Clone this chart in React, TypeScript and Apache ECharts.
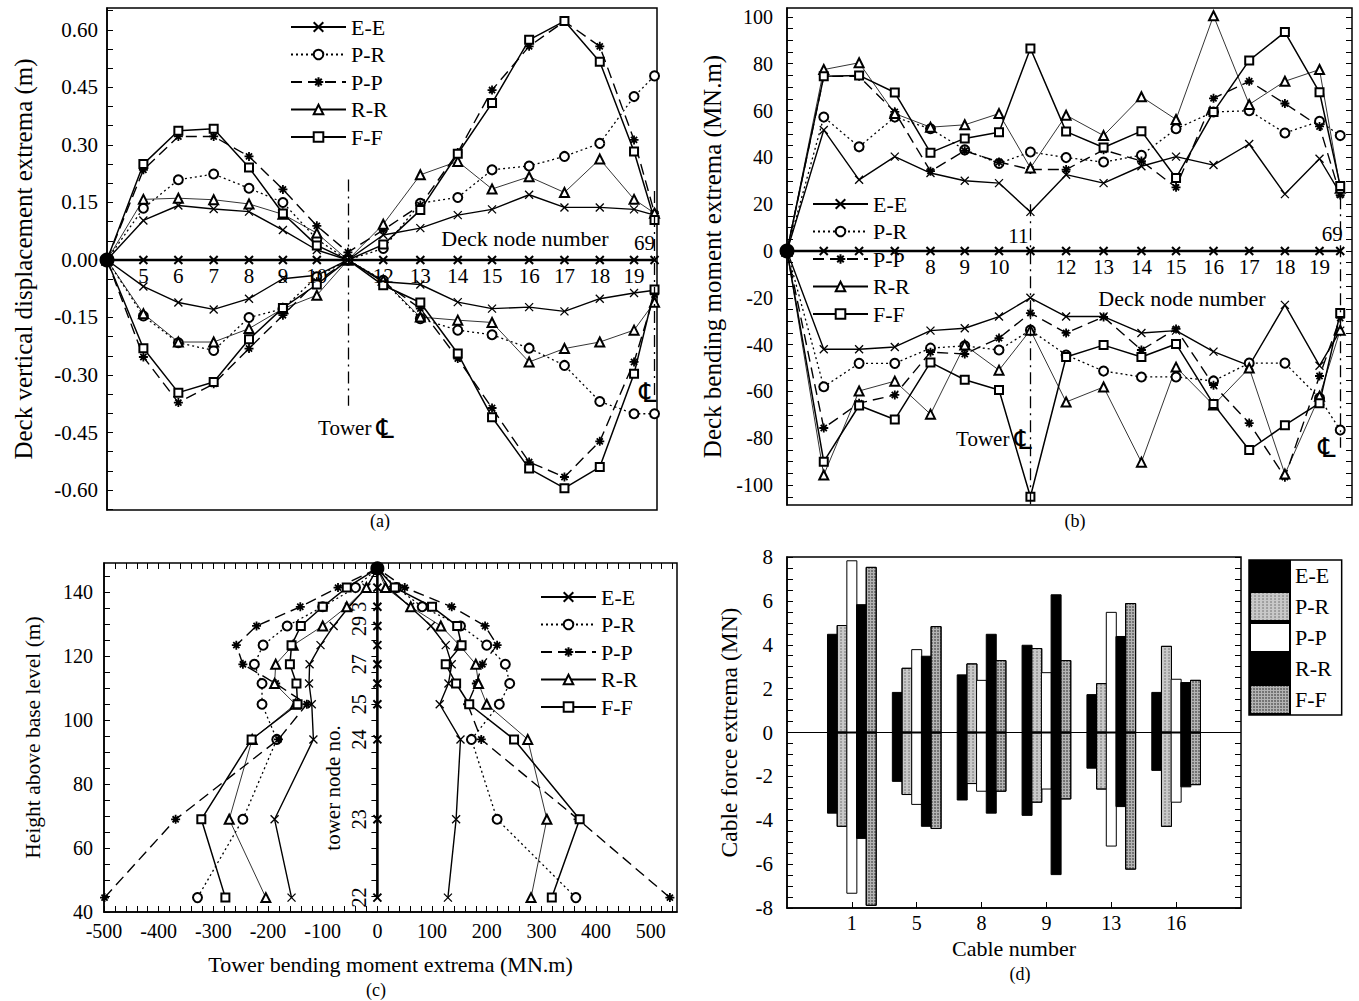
import React, { useEffect, useRef } from 'react';
import * as echarts from 'echarts';

const FONT = '"Liberation Serif", "Times New Roman", "DejaVu Serif", serif';
const caseNames = ['E-E', 'P-R', 'P-P', 'R-R', 'F-F'];

// ---------- deck nodes (panels a, b) ----------
const deckNodeLabels = ['', '5', '6', '7', '8', '9', '10', '11', '12', '13', '14', '15', '16', '17', '18', '19', '69'];
const deckNodePos = [0, 1.03, 2.02, 3.02, 4.02, 4.98, 5.94, 6.82, 7.82, 8.87, 9.93, 10.9, 11.95, 12.95, 13.95, 14.92, 15.5];

// ---------- (a) deck vertical displacement extrema (m) ----------
const dispEEmax = [0, 0.103, 0.142, 0.133, 0.126, 0.078, 0.026, 0, 0.065, 0.083, 0.117, 0.132, 0.17, 0.137, 0.137, 0.132, 0.117];
const dispEEmin = [0, -0.069, -0.111, -0.129, -0.101, -0.049, -0.04, 0, -0.057, -0.064, -0.11, -0.127, -0.123, -0.134, -0.101, -0.086, -0.079];
const dispPRmax = [0, 0.135, 0.209, 0.224, 0.187, 0.15, 0.054, 0, 0.03, 0.148, 0.163, 0.235, 0.245, 0.27, 0.304, 0.426, 0.48];
const dispPRmin = [0, -0.146, -0.216, -0.236, -0.15, -0.127, -0.044, 0, -0.053, -0.153, -0.183, -0.195, -0.23, -0.275, -0.369, -0.401, -0.401];
const dispPPmax = [0, 0.235, 0.322, 0.322, 0.27, 0.184, 0.089, 0.02, 0.078, 0.143, 0.28, 0.443, 0.557, 0.622, 0.557, 0.313, 0.122];
const dispPPmin = [0, -0.253, -0.372, -0.323, -0.231, -0.144, -0.057, 0, -0.057, -0.127, -0.257, -0.386, -0.527, -0.566, -0.473, -0.266, -0.09];
const dispRRmax = [0, 0.158, 0.161, 0.157, 0.146, 0.119, 0.07, 0, 0.093, 0.222, 0.257, 0.185, 0.217, 0.176, 0.263, 0.158, 0.122];
const dispRRmin = [0, -0.14, -0.214, -0.214, -0.179, -0.127, -0.092, 0, -0.053, -0.149, -0.157, -0.163, -0.266, -0.231, -0.214, -0.183, -0.11];
const dispFFmax = [0, 0.25, 0.337, 0.342, 0.241, 0.121, 0.038, 0, 0.04, 0.13, 0.277, 0.409, 0.574, 0.623, 0.517, 0.283, 0.104];
const dispFFmin = [0, -0.23, -0.346, -0.318, -0.207, -0.125, -0.064, 0, -0.066, -0.111, -0.244, -0.41, -0.544, -0.595, -0.54, -0.297, -0.077];
const dispLabels = [-0.6, -0.45, -0.3, -0.15, 0, 0.15, 0.3, 0.45, 0.6];

// ---------- (b) deck bending moment extrema (MN.m) ----------
const momEEmax = [0, 51.7, 30.4, 40.3, 33.3, 30, 29, 16.7, 32.6, 29, 36.2, 40.3, 36.7, 45.7, 24.3, 39.4, 24.6];
const momEEmin = [0, -42, -42, -41, -34, -33, -28, -20, -28, -28, -35, -34, -43, -49, -23, -49, -34];
const momPRmax = [0, 57.2, 44.5, 57.2, 52.2, 43.2, 37.4, 42.3, 39.9, 38, 40.9, 52.2, 59.4, 59.9, 50.4, 55.4, 49.3];
const momPRmin = [0, -58, -48, -48, -41.5, -40.5, -42.3, -33.8, -44.4, -51.3, -53.8, -53.8, -55.5, -47.9, -47.9, -62.8, -76.5];
const momPPmax = [0, 74.6, 74.6, 59.4, 34.1, 42.8, 38, 34.8, 34.8, 43.2, 38.4, 27.2, 65.2, 72.5, 63, 53.2, 23.9];
const momPPmin = [0, -75.6, -65, -61.5, -43.2, -44, -37.2, -26.5, -35, -28.2, -42.3, -33.3, -57.3, -73.5, -96.6, -53.4, -28.6];
const momRRmax = [0, 77.5, 80.4, 58.7, 52.9, 53.9, 58.7, 35.5, 58, 49.3, 65.9, 56.2, 100.5, 62.6, 72.5, 77.5, 26.8];
const momRRmin = [0, -95.7, -59.8, -55.6, -69.7, -40.2, -50.9, -33.8, -64.5, -58.1, -90.2, -49.6, -65.8, -50, -95.3, -62, -33.8];
const momFFmax = [0, 74.6, 75, 67.7, 42, 48.1, 50.7, 86.5, 51, 44.2, 51.2, 31.2, 59.4, 81.4, 93.5, 67.8, 27.8];
const momFFmin = [0, -90, -66, -72, -47.6, -55, -59.4, -105, -45.3, -40.2, -45.3, -39.7, -65.4, -85, -74.4, -65, -26.5];
const momLabels = [-100, -80, -60, -40, -20, 0, 20, 40, 60, 80, 100];

// ---------- (c) tower bending moment extrema (MN.m), bottom to top ----------
const towerHeights = [44.5, 69, 94, 105, 111.5, 117.5, 123.5, 129.5, 135.5, 141.5, 147.5];
const towerNodeLabels = ['22', '23', '24', '25', '', '27', '', '29', '3', '', ''];
const towEEpos = [129, 144, 152, 114, 130, 136, 125, 98, 60, 20, 0];
const towEEneg = [-157, -188, -117, -120, -125, -124, -104, -80, -52, -20, 0];
const towPRpos = [363, 219, 172, 223, 242, 234, 200, 152, 82, 35, 0];
const towPRneg = [-329, -246, -184, -211, -211, -225, -209, -165, -100, -40, 0];
const towPPpos = [535, 367, 190, 165, 181, 192, 219, 197, 136, 50, 0];
const towPPneg = [-499, -369, -181, -129, -186, -246, -258, -221, -141, -72, 0];
const towRRpos = [281, 310, 275, 200, 185, 180, 150, 116, 61, 15, 0];
const towRRneg = [-204, -271, -229, -150, -188, -186, -154, -100, -56, -20, 0];
const towFFpos = [319, 370, 250, 168, 144, 125, 154, 146, 100, 32, 0];
const towFFneg = [-278, -322, -230, -146, -148, -160, -157, -140, -100, -56, 0];
const towXLabels = [-500, -400, -300, -200, -100, 0, 100, 200, 300, 400, 500];
const towYLabels = [40, 60, 80, 100, 120, 140];

// ---------- (d) cable force extrema (MN) ----------
const cableNumbers = ['1', '5', '8', '9', '13', '16'];
const cablePos = [1, 2, 3, 4, 5, 6];
const cableEEmax = [4.5, 1.85, 2.65, 4.0, 1.75, 1.85];
const cableEEmin = [-3.7, -2.25, -3.1, -3.8, -1.65, -1.75];
const cablePRmax = [4.9, 2.95, 3.15, 3.85, 2.25, 3.95];
const cablePRmin = [-4.3, -2.85, -2.35, -3.2, -2.6, -4.3];
const cablePPmax = [7.85, 3.8, 2.4, 2.75, 5.5, 2.45];
const cablePPmin = [-7.35, -3.3, -2.7, -2.6, -5.2, -3.2];
const cableRRmax = [5.85, 3.5, 4.5, 6.3, 4.4, 2.3];
const cableRRmin = [-4.85, -4.3, -3.7, -6.5, -3.4, -2.5];
const cableFFmax = [7.55, 4.85, 3.3, 3.3, 5.9, 2.4];
const cableFFmin = [-7.9, -4.4, -2.7, -3.05, -6.25, -2.4];
const cableYLabels = [-8, -6, -4, -2, 0, 2, 4, 6, 8];

// ---------- helpers ----------
function range(a: number, b: number, step: number) {
  const out: number[] = [];
  for (let v = a; v <= b + 1e-9; v += step) out.push(Math.round(v * 1000) / 1000);
  return out;
}
const X_SYM = 'path://M0,0L10,10M0,10L10,0';
const STAR_SYM = 'path://M5,0L5,10M0,5L10,5M1.6,1.6L8.4,8.4M8.4,1.6L1.6,8.4';
const caseStyle: Record<string, any> = {
  'E-E': { symbol: X_SYM, size: 8, bw: 1.3, line: { type: 'solid', width: 1.4 } },
  'P-R': { symbol: 'emptyCircle', size: 9, bw: 1.1, line: { type: [2, 3], width: 1.3 } },
  'P-P': { symbol: STAR_SYM, size: 9, bw: 1.8, line: { type: [11, 6], width: 1.4 } },
  'R-R': { symbol: 'emptyTriangle', size: 9, bw: 1.0, line: { type: 'solid', width: 0.8 } },
  'F-F': { symbol: 'emptyRect', size: 8, bw: 1.1, line: { type: 'solid', width: 1.5 } },
};
function lineSeries(name: string, data: any[], xi = 0, yi = 0) {
  const s = caseStyle[name];
  return {
    type: 'line', name, data, symbol: s.symbol, symbolSize: s.size, showAllSymbol: true,
    xAxisIndex: xi, yAxisIndex: yi,
    lineStyle: { color: '#000', ...s.line },
    itemStyle: { color: '#000', borderColor: '#000', borderWidth: s.bw },
    silent: true, z: 3,
  };
}
const txt = (extra: any = {}) => ({ fontFamily: FONT, color: '#000', ...extra });
function gText(text: string, x: number, y: number, size: number, extra: any = {}, rich?: any) {
  const style: any = { text, fontFamily: FONT, fontSize: size, fill: '#000', align: 'center', verticalAlign: 'middle', textAlign: 'center', textVerticalAlign: 'middle' };
  if (rich) style.rich = rich;
  return { type: 'text', x, y, ...extra, style };
}
const clRich = {
  t: { fontFamily: FONT, fontSize: 21, fill: '#000' },
  c: { fontFamily: '"DejaVu Serif", "DejaVu Sans", serif', fontSize: 27, fill: '#000' },
};
const gridBorder = { show: true, borderColor: '#000', borderWidth: 1.5, backgroundColor: 'transparent' };
const pairs = (xs: number[], ys: number[]) => xs.map((x, i) => [x, ys[i]]);

function deckSeries(hidden: string[], topLabels: Record<string, number[]>, dashes: any[]) {
  return {
    type: 'line', name: 'deck', z: 5, silent: true,
    data: deckNodePos.map((x, i) => {
      const nm = deckNodeLabels[i];
      const item: any = { value: [x, 0], name: nm };
      if (i === 0) { item.symbol = 'circle'; item.symbolSize = 13; }
      if (hidden.indexOf(nm) >= 0 || nm === '') item.label = { show: false };
      if (topLabels[nm]) item.label = { position: 'top', offset: topLabels[nm], distance: 1 };
      return item;
    }),
    symbol: X_SYM, symbolSize: 8, showAllSymbol: true,
    lineStyle: { color: '#000', width: 2.6 },
    itemStyle: { color: '#000', borderColor: '#000', borderWidth: 2 },
    label: { show: true, position: 'bottom', distance: 1, formatter: '{b}', ...txt({ fontSize: 21 }) },
    markLine: {
      silent: true, symbol: ['none', 'none'], label: { show: false },
      lineStyle: { color: '#000', type: [12, 5, 2, 5], width: 1.3 },
      data: dashes,
    },
  };
}

const lineLegend = (left: number, top: number) => ({
  data: caseNames, orient: 'vertical', left, top, padding: 0, itemWidth: 55, itemHeight: 12, itemGap: 5.5,
  selectedMode: false, textStyle: txt({ fontSize: 22, lineHeight: 22 }),
});

function optionA() {
  return {
    animation: false,
    grid: { left: 107, top: 8, width: 550, height: 502, ...gridBorder },
    legend: lineLegend(290, 16),
    xAxis: { type: 'value', min: 0, max: 15.57, axisLine: { show: false }, axisTick: { show: false }, axisLabel: { show: false }, splitLine: { show: false } },
    yAxis: {
      type: 'value', min: -0.652, max: 0.657,
      name: 'Deck vertical displacement extrema (m)', nameLocation: 'middle', nameGap: 71, nameTextStyle: txt({ fontSize: 25 }),
      axisLine: { show: true, lineStyle: { color: '#000', width: 1.5 } },
      axisTick: { inside: true, length: 6, customValues: range(-0.65, 0.65, 0.05), lineStyle: { color: '#000' } },
      axisLabel: { customValues: dispLabels, formatter: (v: number) => v.toFixed(2), margin: 9, ...txt({ fontSize: 21 }) },
      splitLine: { show: false },
    },
    series: [
      lineSeries('E-E', pairs(deckNodePos, dispEEmax)), lineSeries('E-E', pairs(deckNodePos, dispEEmin)),
      lineSeries('P-R', pairs(deckNodePos, dispPRmax)), lineSeries('P-R', pairs(deckNodePos, dispPRmin)),
      lineSeries('P-P', pairs(deckNodePos, dispPPmax)), lineSeries('P-P', pairs(deckNodePos, dispPPmin)),
      lineSeries('R-R', pairs(deckNodePos, dispRRmax)), lineSeries('R-R', pairs(deckNodePos, dispRRmin)),
      lineSeries('F-F', pairs(deckNodePos, dispFFmax)), lineSeries('F-F', pairs(deckNodePos, dispFFmin)),
      deckSeries(['11'], { '69': [-10, 0] }, [
        [{ coord: [deckNodePos[7], 0.21] }, { coord: [deckNodePos[7], -0.38] }],
        [{ coord: [deckNodePos[16], 0.18] }, { coord: [deckNodePos[16], -0.37] }],
      ]),
    ],
    graphic: [
      gText('Deck node number', 525, 238, 22),
      gText('{t|Tower} {c|℄}', 356, 428, 21, {}, clRich),
      gText('{c|℄}', 648, 392, 21, {}, clRich),
      gText('(a)', 380, 521, 18),
    ],
  };
}

function optionB() {
  return {
    animation: false,
    grid: { left: 107, top: 8, width: 565, height: 497, ...gridBorder },
    legend: lineLegend(132, 193),
    xAxis: { type: 'value', min: 0, max: 15.83, axisLine: { show: false }, axisTick: { show: false }, axisLabel: { show: false }, splitLine: { show: false } },
    yAxis: [{
      type: 'value', min: -108.5, max: 103.8,
      name: 'Deck bending moment extrema (MN.m)', nameLocation: 'middle', nameGap: 52, nameTextStyle: txt({ fontSize: 25 }),
      axisLine: { show: true, lineStyle: { color: '#000', width: 1.5 } },
      axisTick: { inside: true, length: 6, customValues: range(-105, 100, 5), lineStyle: { color: '#000' } },
      axisLabel: { customValues: momLabels, margin: 14, ...txt({ fontSize: 20 }) },
      splitLine: { show: false },
    }, {
      type: 'value', min: -108.5, max: 103.8, position: 'right',
      axisLine: { show: false },
      axisTick: { inside: true, length: 6, customValues: range(-105, 100, 5), lineStyle: { color: '#000' } },
      axisLabel: { show: false }, splitLine: { show: false },
    }],
    series: [
      lineSeries('E-E', pairs(deckNodePos, momEEmax)), lineSeries('E-E', pairs(deckNodePos, momEEmin)),
      lineSeries('P-R', pairs(deckNodePos, momPRmax)), lineSeries('P-R', pairs(deckNodePos, momPRmin)),
      lineSeries('P-P', pairs(deckNodePos, momPPmax)), lineSeries('P-P', pairs(deckNodePos, momPPmin)),
      lineSeries('R-R', pairs(deckNodePos, momRRmax)), lineSeries('R-R', pairs(deckNodePos, momRRmin)),
      lineSeries('F-F', pairs(deckNodePos, momFFmax)), lineSeries('F-F', pairs(deckNodePos, momFFmin)),
      deckSeries(['5', '6', '7'], { '11': [-12, 2], '69': [-8, 0] }, [
        [{ coord: [deckNodePos[7], 20] }, { coord: [deckNodePos[7], -108.5] }],
        [{ coord: [deckNodePos[16], 23] }, { coord: [deckNodePos[16], -84] }],
      ]),
    ],
    graphic: [
      gText('Deck node number', 502, 298, 22),
      gText('{t|Tower} {c|℄}', 314, 439, 21, {}, clRich),
      gText('{c|℄}', 647, 447, 21, {}, clRich),
      gText('(b)', 395, 521, 18),
    ],
  };
}

function optionC() {
  const tower = {
    type: 'line', name: 'tower', z: 5, silent: true,
    data: towerHeights.map((h, i) => {
      const item: any = { value: [0, h], name: towerNodeLabels[i] };
      if (i === towerHeights.length - 1) { item.symbol = 'circle'; item.symbolSize = 12; }
      if (!towerNodeLabels[i]) item.label = { show: false };
      return item;
    }),
    symbol: X_SYM, symbolSize: 8, showAllSymbol: true,
    lineStyle: { color: '#000', width: 2.6 },
    itemStyle: { color: '#000', borderColor: '#000', borderWidth: 2 },
    label: { show: true, position: 'left', distance: 3, rotate: 90, align: 'center', verticalAlign: 'bottom', formatter: '{b}', ...txt({ fontSize: 20 }) },
  };
  const pr = (v: number[]) => pairs(v, towerHeights);
  return {
    animation: false,
    grid: { left: 104, top: 23, width: 573, height: 349, ...gridBorder },
    legend: lineLegend(540, 46),
    xAxis: [{
      type: 'value', min: -500, max: 548,
      name: 'Tower bending moment extrema (MN.m)', nameLocation: 'middle', nameGap: 41, nameTextStyle: txt({ fontSize: 22 }),
      axisLine: { show: true, onZero: false, lineStyle: { color: '#000', width: 1.5 } },
      axisTick: { inside: true, length: 6, customValues: range(-500, 540, 20), lineStyle: { color: '#000' } },
      axisLabel: { customValues: towXLabels, margin: 9, ...txt({ fontSize: 20 }) },
      splitLine: { show: false },
    }, {
      type: 'value', min: -500, max: 548, position: 'top',
      axisLine: { show: false },
      axisTick: { inside: true, length: 6, customValues: range(-500, 540, 20), lineStyle: { color: '#000' } },
      axisLabel: { show: false }, splitLine: { show: false },
    }],
    yAxis: [{
      type: 'value', min: 40, max: 149.2,
      name: 'Height above base level (m)', nameLocation: 'middle', nameGap: 60, nameTextStyle: txt({ fontSize: 21.5 }),
      axisLine: { show: true, onZero: false, lineStyle: { color: '#000', width: 1.5 } },
      axisTick: { inside: true, length: 6, customValues: range(40, 145, 5), lineStyle: { color: '#000' } },
      axisLabel: { customValues: towYLabels, margin: 11, ...txt({ fontSize: 20 }) },
      splitLine: { show: false },
    }, {
      type: 'value', min: 40, max: 149.2, position: 'right',
      axisLine: { show: false },
      axisTick: { inside: true, length: 6, customValues: range(40, 145, 5), lineStyle: { color: '#000' } },
      axisLabel: { show: false }, splitLine: { show: false },
    }],
    series: [
      lineSeries('E-E', pr(towEEpos)), lineSeries('E-E', pr(towEEneg)),
      lineSeries('P-R', pr(towPRpos)), lineSeries('P-R', pr(towPRneg)),
      lineSeries('P-P', pr(towPPpos)), lineSeries('P-P', pr(towPPneg)),
      lineSeries('R-R', pr(towRRpos)), lineSeries('R-R', pr(towRRneg)),
      lineSeries('F-F', pr(towFFpos)), lineSeries('F-F', pr(towFFneg)),
      tower,
    ],
    graphic: [
      gText('tower node no.', 333, 248, 21, { rotation: Math.PI / 2 }),
      gText('(c)', 376, 450, 18),
    ],
  };
}

function optionD() {
  const fills: Record<string, any> = {
    'E-E': { color: '#000' },
    'P-R': { color: '#c8c8c8', decal: { symbol: 'circle', symbolSize: 0.7, color: 'rgba(0,0,0,0.5)', dashArrayX: [2, 2], dashArrayY: [2, 1], rotation: 0 } },
    'P-P': { color: '#fff' },
    'R-R': { color: '#000' },
    'F-F': { color: '#b4b4b4', decal: { symbol: 'circle', symbolSize: 0.8, color: 'rgba(0,0,0,0.55)', dashArrayX: [2, 1], dashArrayY: [2, 1], rotation: 0 } },
  };
  const maxes: Record<string, number[]> = { 'E-E': cableEEmax, 'P-R': cablePRmax, 'P-P': cablePPmax, 'R-R': cableRRmax, 'F-F': cableFFmax };
  const mins: Record<string, number[]> = { 'E-E': cableEEmin, 'P-R': cablePRmin, 'P-P': cablePPmin, 'R-R': cableRRmin, 'F-F': cableFFmin };
  const series: any[] = [];
  caseNames.forEach((nm, k) => {
    [maxes[nm], mins[nm]].forEach((vals) => {
      series.push({
        type: 'bar', name: nm, stack: 's' + k, barWidth: 11, barGap: '-12%', silent: true,
        data: pairs(cablePos, vals),
        itemStyle: { ...fills[nm], borderColor: '#000', borderWidth: 1 },
      });
    });
  });
  series[0].markLine = {
    silent: true, symbol: ['none', 'none'], label: { show: false },
    lineStyle: { color: '#000', type: 'solid', width: 1 }, data: [{ yAxis: 0 }], z: 10,
  };
  return {
    animation: false,
    grid: { left: 87, top: 17, width: 454, height: 351, ...gridBorder },
    legend: {
      data: caseNames, orient: 'vertical', left: 549, top: 20, icon: 'rect',
      itemWidth: 40, itemHeight: 29, itemGap: 0, itemTextGap: 13, padding: [0, 10, 0, 0],
      borderColor: '#000', borderWidth: 1.5, selectedMode: false,
      textStyle: txt({ fontSize: 22 }),
    },
    xAxis: {
      type: 'value', min: 0, max: 7,
      name: 'Cable number', nameLocation: 'middle', nameGap: 29, nameMoveOverlap: false, nameTextStyle: txt({ fontSize: 22 }),
      axisLine: { show: true, onZero: false, lineStyle: { color: '#000', width: 1.5 } },
      axisTick: { inside: true, length: 6, customValues: cablePos, lineStyle: { color: '#000' } },
      axisLabel: { customValues: cablePos, formatter: (v: number) => cableNumbers[Math.round(v) - 1] || '', margin: 5, ...txt({ fontSize: 20 }) },
      splitLine: { show: false },
    },
    yAxis: [{
      type: 'value', min: -8, max: 8,
      name: 'Cable force extrema (MN)', nameLocation: 'middle', nameGap: 46, nameTextStyle: txt({ fontSize: 23.5 }),
      axisLine: { show: true, lineStyle: { color: '#000', width: 1.5 } },
      axisTick: { inside: true, length: 6, customValues: range(-8, 8, 0.5), lineStyle: { color: '#000' } },
      axisLabel: { customValues: cableYLabels, margin: 14, ...txt({ fontSize: 21 }) },
      splitLine: { show: false },
    }, {
      type: 'value', min: -8, max: 8, position: 'right',
      axisLine: { show: false },
      axisTick: { inside: true, length: 6, customValues: range(-8, 8, 0.5), lineStyle: { color: '#000' } },
      axisLabel: { show: false }, splitLine: { show: false },
    }],
    series,
    graphic: [gText('(d)', 320, 434, 18)],
  };
}

export default function App() {
  const ra = useRef<HTMLDivElement>(null);
  const rb = useRef<HTMLDivElement>(null);
  const rc = useRef<HTMLDivElement>(null);
  const rd = useRef<HTMLDivElement>(null);
  useEffect(() => {
    const defs: [HTMLDivElement | null, any][] = [
      [ra.current, optionA()], [rb.current, optionB()], [rc.current, optionC()], [rd.current, optionD()],
    ];
    const charts = defs.map(([el, opt]) => {
      const c = echarts.init(el as HTMLDivElement, null, { renderer: 'svg' });
      c.setOption(opt);
      return c;
    });
    return () => charts.forEach((c) => c.dispose());
  }, []);
  const box = (left: number, top: number, width: number, height: number): React.CSSProperties => ({ position: 'absolute', left, top, width, height });
  return (
    <div style={{ position: 'absolute', left: 0, top: 0, width: 1359, height: 1001, background: '#fff' }}>
      <div ref={ra} style={box(0, 0, 680, 540)} />
      <div ref={rb} style={box(680, 0, 679, 540)} />
      <div ref={rc} style={box(0, 540, 700, 461)} />
      <div ref={rd} style={box(700, 540, 659, 461)} />
    </div>
  );
}
